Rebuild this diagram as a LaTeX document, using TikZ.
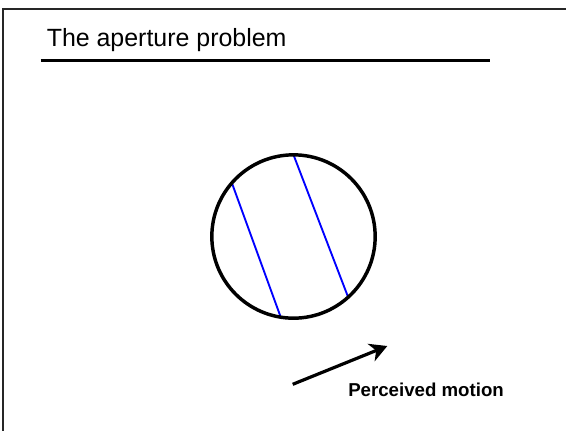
\documentclass[tikz,border=0pt]{standalone}
\usepackage{fontspec}
\setmainfont{Liberation Sans}
\usetikzlibrary{arrows.meta, positioning, backgrounds}
\definecolor{gratingblue}{HTML}{0000FF}

\begin{document}
\begin{tikzpicture}[
    x=0.75pt, y=-0.75pt,
    frame/.style={draw=black!85, line width=1.6pt},
    aperture/.style={circle, draw=black, line width=2.6pt, minimum size=122.5pt,
                     inner sep=0pt, outer sep=0pt},
    grating/.style={draw=gratingblue, line width=1.4pt},
    motion/.style={draw=black, line width=2.4pt,
                   -{Stealth[length=13pt, width=14pt, inset=4pt]}},
]
    \useasboundingbox (0,0) rectangle (566,430);
    % slide frame: only top and left edges
    \draw[frame] (566,9) -- (3,9) -- (3,431);

    \node[anchor=base west, inner sep=0pt, font=\fontsize{18.7}{22}\selectfont] (title)
        at (46.5,46.7) {The aperture problem};
    \coordinate (rulel) at (40.7,60.5);
    \coordinate (ruler) at (490,60.5);
    \draw[line width=2.2pt] (rulel) -- (ruler);

    \node[aperture] (ap) at (293.5,236.5) {};
    \begin{scope}[on background layer]
        \draw[grating] (ap.139.4) -- (ap.261);
        \draw[grating] (ap.90) -- (ap.-48.2);
    \end{scope}

    \coordinate (mstart) at (292.7,384.3);
    \coordinate (mend) at (387.3,346);
    \draw[motion] (mstart) -- (mend);
    \node[anchor=base west, inner sep=0pt, font=\fontsize{14}{16}\selectfont\bfseries] (label)
        at (348,396) {Perceived motion};
\end{tikzpicture}
\end{document}
